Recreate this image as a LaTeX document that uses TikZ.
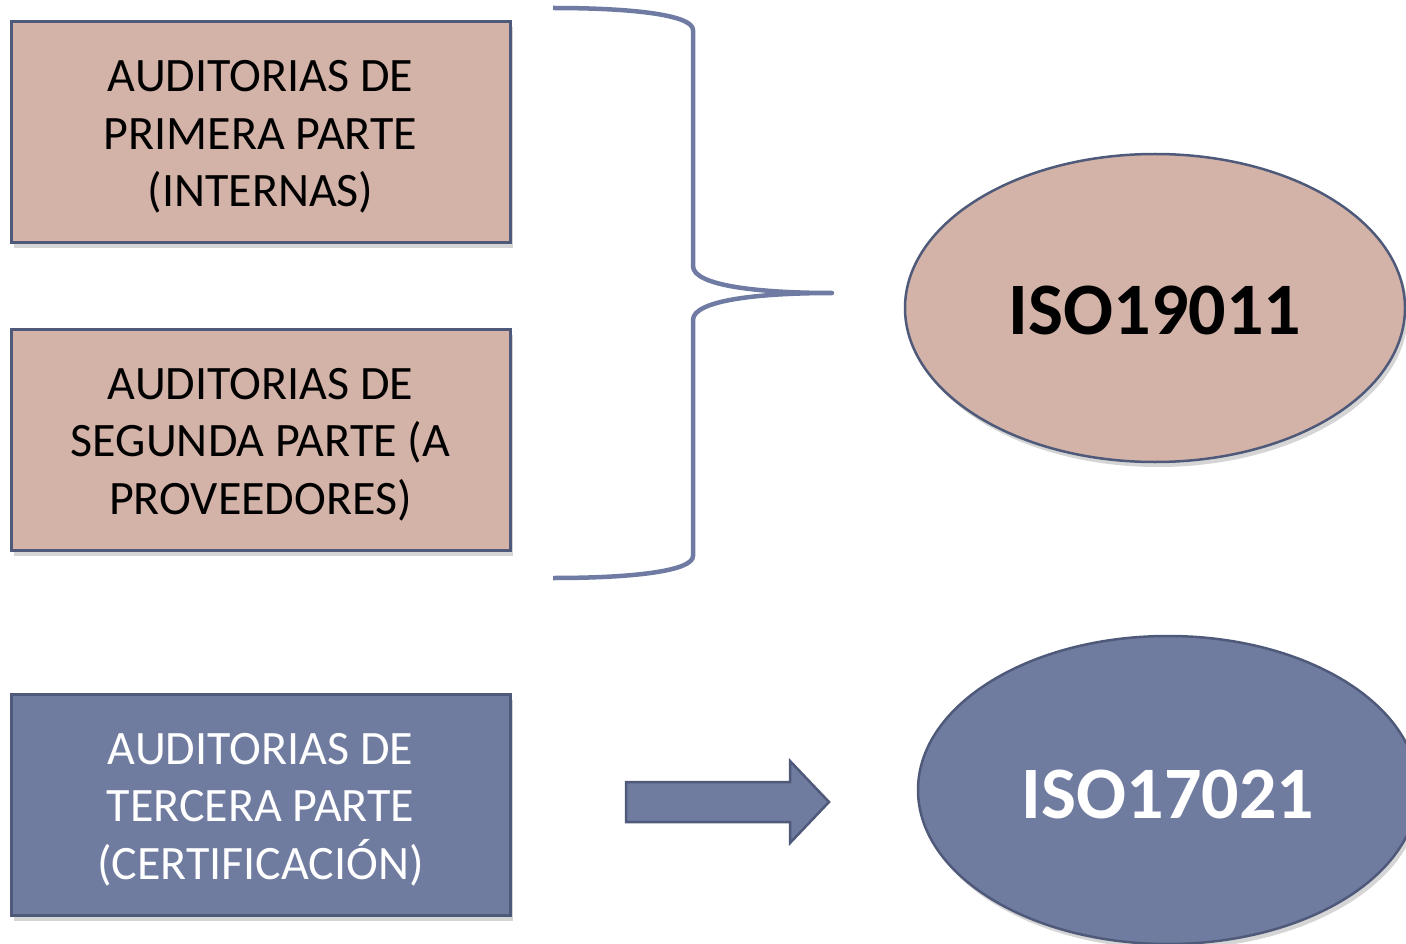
\documentclass[tikz,border=0pt]{standalone}
\usepackage{fontspec}
\setmainfont{Carlito}
\usetikzlibrary{shapes.geometric,shadows}
\definecolor{pinkfill}{HTML}{D3B3A8}
\definecolor{bluefill}{HTML}{707BA0}
\definecolor{edgeblue}{HTML}{4F5A7A}
\definecolor{bracecol}{HTML}{6F7BA3}
\tikzset{
  shadowed/.style={drop shadow={shadow xshift=3pt,shadow yshift=-5pt,opacity=0.3,fill=black!55}},
  auditbox/.style={draw=edgeblue,line width=3pt,minimum width=499pt,minimum height=221pt,inner sep=0pt,shadowed},
  pinkbox/.style={auditbox,fill=pinkfill},
  bluebox/.style={auditbox,fill=bluefill},
  boxtext/.style={align=center,inner sep=0pt,font=\fontsize{48}{57.5}\selectfont},
  isoell/.style={ellipse,draw=edgeblue,line width=2.5pt,minimum width=500pt,minimum height=308pt,inner sep=0pt,shadowed},
  isotext/.style={inner sep=0pt,font=\fontsize{74}{88}\selectfont\bfseries},
  bracestyle/.style={draw=bracecol,line width=4.5pt,line join=round},
}
\begin{document}
\begin{tikzpicture}[x=1pt,y=-1pt]
\useasboundingbox (0,0) rectangle (1406,944);
\clip (0,0) rectangle (1406,944);
\node[pinkbox] (b1) at (260.5,132.5) {};
\node[boxtext,text=black] (t1) at (260.5,137) {AUDITORIAS DE\\PRIMERA PARTE\\(INTERNAS)};
\node[pinkbox] (b2) at (260.5,440) {};
\node[boxtext,text=black] (t2) at (260.5,444.5) {AUDITORIAS DE\\SEGUNDA PARTE (A\\PROVEEDORES)};
\node[bluebox] (b3) at (260.5,805) {};
\node[boxtext,text=white] (t3) at (260.5,809.5) {AUDITORIAS DE\\TERCERA PARTE\\(CERTIFICACIÓN)};
\node[isoell,fill=pinkfill] (e1) at (1155,308) {};
\node[isotext,text=black] (i1) at (1155,310) {ISO19011};
\node[isoell,fill=bluefill] (e2) at (1168,790) {};
\node[isotext,text=white] (i2) at (1168,794) {ISO17021};
% brace
\coordinate (btop) at (553,8);
\coordinate (btip) at (832,293);
\coordinate (bbot) at (553,578);
\draw[bracestyle,line cap=butt] (btop) .. controls (640,8) and (693,16) .. (693,30) -- (693,266)
  .. controls (693,286) and (760,293) .. (btip)
  .. controls (760,293) and (693,300) .. (693,320) -- (693,556)
  .. controls (693,570) and (640,578) .. (bbot);
% block arrow
\draw[draw=edgeblue,fill=bluefill,line width=2.5pt,line join=miter]
  (626,782) -- (790,782) -- (790,761) -- (829,802) -- (790,843) -- (790,822) -- (626,822) -- cycle;
\end{tikzpicture}
\end{document}
